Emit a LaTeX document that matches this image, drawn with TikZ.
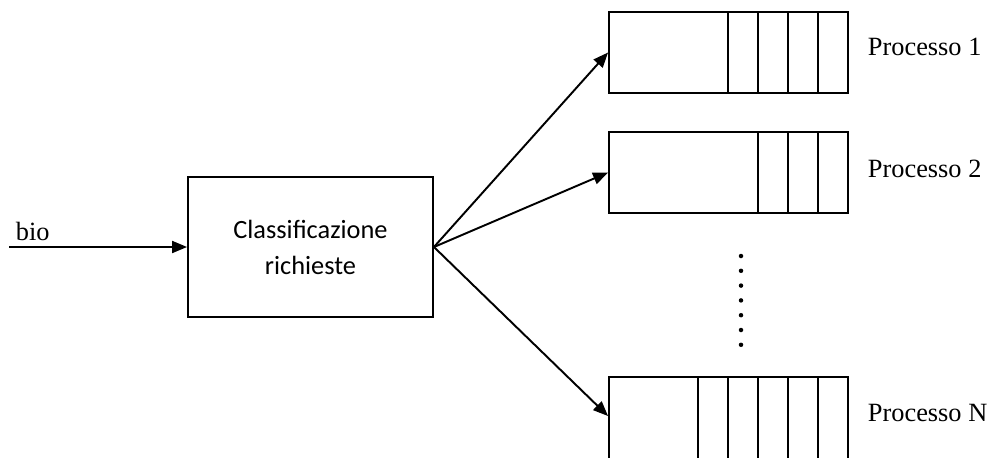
\documentclass[tikz,border=0pt]{standalone}
\usepackage{fontspec}
\setmainfont{Liberation Serif}
\newfontfamily\boxfont{Carlito}
\usetikzlibrary{arrows.meta}
\begin{document}
\begin{tikzpicture}[x=0.02cm, y=-0.02cm,
  line width=1.1pt,
  box/.style={draw, rectangle, line width=1.1pt, inner sep=0pt},
  queue/.style={box, minimum width=4.78cm, minimum height=1.62cm},
  link/.style={-{Triangle[length=0.3cm, width=0.24cm]}, line width=1.1pt},
  lbl/.style={font=\fontsize{15}{18}\selectfont, inner sep=0pt, anchor=west}]
  \clip (0,0) rectangle (991,457);

  % classifier block
  \node[box, minimum width=4.9cm, minimum height=2.8cm, align=center,
        font=\boxfont\fontsize{15}{20.5}\selectfont] (cls) at (310.5,247)
        {Classificazione\\richieste};

  % input
  \coordinate (in) at (9,247);
  \draw[link] (in) -- (cls.west);
  \node[lbl] (bio) at (15,231) {bio};

  % queues (the last one runs past the lower edge)
  \node[queue] (q1) at (728.5,52.5) {};
  \node[queue] (q2) at (728.5,172.5) {};
  \node[queue, minimum height=1.8cm] (qn) at (728.5,422) {};

  \foreach \x in {728,758,788,818} \draw (\x,12) -- (\x,93);
  \foreach \x in {758,788,818} \draw (\x,132) -- (\x,213);
  \foreach \x in {698,728,758,788,818} \draw (\x,377) -- (\x,467);

  \node[lbl] (l1) at (867,47) {Processo 1};
  \node[lbl] (l2) at (867,169) {Processo 2};
  \node[lbl] (ln) at (867,413) {Processo N};

  % dispatch arrows
  \draw[link] (cls.east) -- (q1.west);
  \draw[link] (cls.east) -- (q2.west);
  \draw[link] (cls.east) -- ([yshift=-0.8cm]qn.north west);

  % vertical ellipsis
  \foreach \k in {0,...,6} \fill (741,256+14.8*\k) circle (0.045cm);
\end{tikzpicture}
\end{document}
